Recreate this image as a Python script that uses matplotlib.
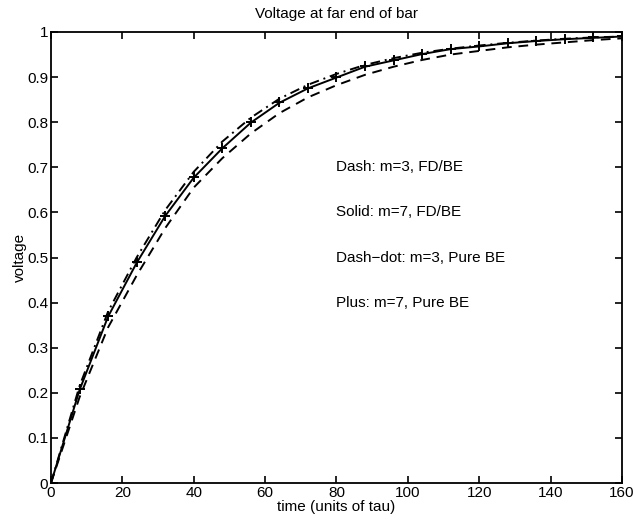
import numpy as np
import matplotlib
matplotlib.use("Agg")
import matplotlib.pyplot as plt

# ------------------------------------------------------------
# Data
# ------------------------------------------------------------

t = [0, 8, 16, 24, 32, 40, 48, 56, 64, 72, 80,
     88, 96, 104, 112, 120, 128, 136, 144, 152, 160]

# dash: m=3, FD/BE
v_dash = [0, 0.19, 0.345, 0.46, 0.565, 0.655, 0.72, 0.775, 0.82, 0.855, 0.882,
          0.905, 0.923, 0.938, 0.95, 0.958, 0.966, 0.972, 0.977, 0.982, 0.986]

# solid: m=7, FD/BE
v_solid = [0, 0.206, 0.369, 0.488, 0.592, 0.677, 0.742, 0.799, 0.843, 0.875, 0.899,
           0.923, 0.937, 0.951, 0.962, 0.968, 0.975, 0.98, 0.984, 0.987, 0.99]

# dash-dot: m=3, pure BE
v_dashdot = [0, 0.215, 0.38, 0.5, 0.605, 0.69, 0.757, 0.81, 0.852, 0.883, 0.907,
             0.927, 0.942, 0.954, 0.963, 0.97, 0.976, 0.981, 0.985, 0.988, 0.99]

# plus: m=7, pure BE
v_plus = [0, 0.208, 0.37, 0.49, 0.593, 0.678, 0.743, 0.8, 0.844, 0.876, 0.9,
          0.924, 0.938, 0.952, 0.963, 0.969, 0.976, 0.981, 0.985, 0.988, 0.99]

labels = ["Dash: m=3, FD/BE",
          "Solid: m=7, FD/BE",
          "Dash\u2212dot: m=3, Pure BE",
          "Plus: m=7, Pure BE"]
label_y = [0.7, 0.6, 0.5, 0.4]

# ------------------------------------------------------------
# Plot
# ------------------------------------------------------------

plt.rcParams["font.family"] = ["Liberation Sans", "DejaVu Sans"]

fig = plt.figure(figsize=(6.34, 5.21), dpi=100)
ax = fig.add_axes([0.0804, 0.0729, 0.9006, 0.8657])

ax.plot(t, v_dash, color="black", lw=1.4, linestyle=(0, (5, 3.5)))
ax.plot(t, v_solid, color="black", lw=1.4, linestyle="-")
ax.plot(t, v_dashdot, color="black", lw=1.4, linestyle=(0, (5, 2.5, 1, 2.5)))
ax.plot(t, v_plus, color="black", lw=0, marker="+", markersize=7, mew=1.4)

for txt, yy in zip(labels, label_y):
    ax.text(80, yy, txt, fontsize=11, va="center", ha="left")

ax.set_xlim(0, 160)
ax.set_ylim(0, 1)
ax.set_xticks(np.arange(0, 161, 20))
ax.set_yticks(np.arange(0, 1.01, 0.1))
ax.set_yticklabels(["0", "0.1", "0.2", "0.3", "0.4", "0.5",
                    "0.6", "0.7", "0.8", "0.9", "1"])

ax.tick_params(direction="in", length=5, width=1.2, top=True, right=True,
               labelsize=11, pad=2)
for s in ax.spines.values():
    s.set_linewidth(1.3)

ax.set_title("Voltage at far end of bar", fontsize=11, pad=10)
ax.set_xlabel("time (units of tau)", fontsize=11, labelpad=0)
ax.set_ylabel("voltage", fontsize=11, labelpad=0)

fig.savefig("out.png", dpi=100)
